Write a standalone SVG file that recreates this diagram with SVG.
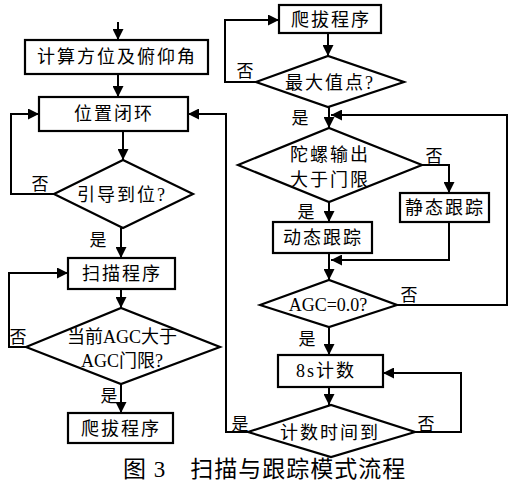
<svg xmlns="http://www.w3.org/2000/svg" width="514" height="487" viewBox="0 0 514 487">
<style>
.b{fill:#fff;stroke:#000;stroke-width:2.2}
.c{fill:none;stroke:#000;stroke-width:2}
.t{font-family:"Liberation Serif","Noto Sans CJK SC",serif;font-size:18px;fill:#000;text-anchor:middle;letter-spacing:2px}
.l{font-family:"Liberation Serif","Noto Sans CJK SC",serif;font-size:17px;fill:#000;text-anchor:middle}
.cap{font-family:"Liberation Serif","Noto Sans CJK SC",serif;font-size:23px;fill:#000;letter-spacing:1px}
</style>
<defs>
<marker id="a" viewBox="0 0 10 10" refX="10" refY="5" markerWidth="5.5" markerHeight="5.5" orient="auto" markerUnits="strokeWidth"><path d="M0,0L10,5L0,10z" fill="#000"/></marker>
</defs>
<rect width="514" height="487" fill="#fff"/>
<g id="connectors">
<path class="c" d="M118,22V40" marker-end="url(#a)"/>
<path class="c" d="M118,74V97" marker-end="url(#a)"/>
<path class="c" d="M123,131V160" marker-end="url(#a)"/>
<path class="c" d="M54,194H11V114H39" marker-end="url(#a)"/>
<path class="c" d="M121,228V258" marker-end="url(#a)"/>
<path class="c" d="M121,289V308" marker-end="url(#a)"/>
<path class="c" d="M26,347H9V273H68" marker-end="url(#a)"/>
<path class="c" d="M121,384V413" marker-end="url(#a)"/>
<path class="c" d="M328,33V56" marker-end="url(#a)"/>
<path class="c" d="M256,82H225V20H279" marker-end="url(#a)"/>
<path class="c" d="M329,107V128" marker-end="url(#a)"/>
<path class="c" d="M422,165H449V193" marker-end="url(#a)"/>
<path class="c" d="M329,202V222" marker-end="url(#a)"/>
<path class="c" d="M449,222V260H331" marker-end="url(#a)"/>
<path class="c" d="M329,253V280" marker-end="url(#a)"/>
<path class="c" d="M397,305H507V115H331" marker-end="url(#a)"/>
<path class="c" d="M329,327V355" marker-end="url(#a)"/>
<path class="c" d="M329,387V405" marker-end="url(#a)"/>
<path class="c" d="M415,432H461V373H383" marker-end="url(#a)"/>
<path class="c" d="M248,432H226V114H188" marker-end="url(#a)"/>
</g>
<g id="n1"><rect class="b" x="25" y="40" width="183" height="34"/><text class="t" x="117" y="63">计算方位及俯仰角</text></g>
<g id="n2"><rect class="b" x="39" y="97" width="149" height="34"/><text class="t" x="114" y="120">位置闭环</text></g>
<g id="n3"><polygon class="b" points="54,194 123,160 193,194 123,228"/><text class="t" x="122" y="201">引导到位?</text></g>
<g id="n4"><rect class="b" x="68" y="258" width="107" height="31"/><text class="t" x="122" y="280">扫描程序</text></g>
<g id="n5"><polygon class="b" points="26,347 121,308 220,347 121,384"/><text class="t" x="122" y="343" style="letter-spacing:0px">当前AGC大于</text><text class="t" x="122" y="367" style="letter-spacing:0px">AGC门限?</text></g>
<g id="n6"><rect class="b" x="68" y="413" width="105" height="30"/><text class="t" x="121" y="435">爬拔程序</text></g>
<g id="n7"><rect class="b" x="279" y="5" width="102" height="28"/><text class="t" x="331" y="26">爬拔程序</text></g>
<g id="n8"><polygon class="b" points="256,82 328,56 404,82 328,107"/><text class="t" x="330" y="89">最大值点?</text></g>
<g id="n9"><polygon class="b" points="238,165 329,128 422,165 329,202"/><text class="t" x="330" y="161">陀螺输出</text><text class="t" x="330" y="186">大于门限</text></g>
<g id="n10"><rect class="b" x="400" y="193" width="89" height="29"/><text class="t" x="445" y="214">静态跟踪</text></g>
<g id="n11"><rect class="b" x="273" y="222" width="99" height="31"/><text class="t" x="323" y="244">动态跟踪</text></g>
<g id="n12"><polygon class="b" points="260,305 329,280 397,305 329,327"/><text class="t" x="328" y="311" style="letter-spacing:0px">AGC=0.0?</text></g>
<g id="n13"><rect class="b" x="278" y="355" width="105" height="32"/><text class="t" x="326" y="377">8s计数</text></g>
<g id="n14"><polygon class="b" points="248,432 331,405 415,432 331,457"/><text class="t" x="330" y="439">计数时间到</text></g>
<g id="labels">
<text class="l" x="40" y="190">否</text>
<text class="l" x="98" y="246">是</text>
<text class="l" x="18" y="343">否</text>
<text class="l" x="109" y="402">是</text>
<text class="l" x="245" y="77">否</text>
<text class="l" x="300" y="124">是</text>
<text class="l" x="434" y="162">否</text>
<text class="l" x="306" y="218">是</text>
<text class="l" x="409" y="301">否</text>
<text class="l" x="307" y="345">是</text>
<text class="l" x="426" y="430">否</text>
<text class="l" x="240" y="430">是</text>
</g>
<text class="cap" x="123" y="477">图 3　扫描与跟踪模式流程</text>
</svg>
